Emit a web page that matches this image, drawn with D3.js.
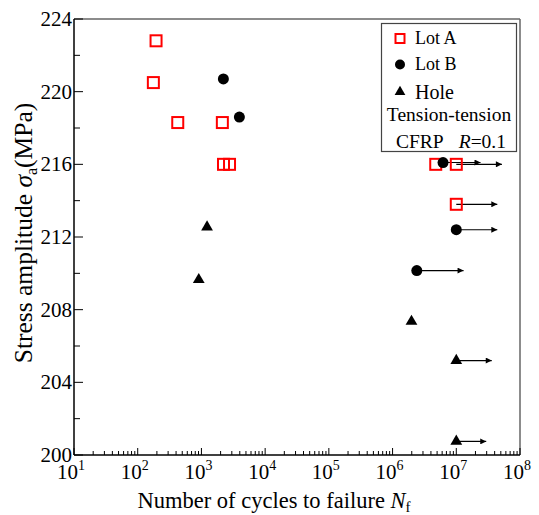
<!DOCTYPE html>
<html>
<head>
<meta charset="utf-8">
<script src="https://cdn.jsdelivr.net/npm/d3@7"></script>
<style>
  body { margin: 0; background: #fff; }
  text { font-family: "Liberation Serif", "Times New Roman", serif; fill: #000; }
</style>
</head>
<body>
<div id="chart"></div>
<script>
(function () {
    'use strict';

    // Lot A (open red squares)
    var lotAN = [194, 176, 425, 2130, 2220, 2760, 4760000, 10000000, 10000000];
    var lotAS = [222.8, 220.5, 218.3, 218.3, 216.0, 216.0, 216.0, 216.0, 213.8];
    // Lot B (filled circles)
    var lotBN = [2210, 3940, 6200000, 10000000, 2400000];
    var lotBS = [220.7, 218.6, 216.1, 212.4, 210.15];
    // Hole (filled triangles)
    var holeN = [1225, 908, 1980000, 10000000, 10000000];
    var holeS = [212.55, 209.65, 207.35, 205.2, 200.75];
    // run-outs (arrows)
    var runFromN = [6200000, 10000000, 10000000, 10000000, 2400000, 10000000, 10000000];
    var runToN = [24000000, 52000000, 44000000, 44000000, 13000000, 36000000, 29500000];
    var runS = [216.1, 216.0, 213.8, 212.4, 210.15, 205.2, 200.75];

    var xDecades = [1, 2, 3, 4, 5, 6, 7, 8];
    var yTicks = [200, 204, 208, 212, 216, 220, 224];
    var yMinor = [202, 206, 210, 214, 218, 222];

    var width = 539, height = 515;
    var left = 74, right = 520, top = 19, bottom = 455;

    var x = d3.scaleLog().domain([10, 1e8]).range([left, right]);
    var y = d3.scaleLinear().domain([200, 224]).range([bottom, top]);

    var svg = d3.select('#chart').append('svg')
        .attr('width', width)
        .attr('height', height);

    var defs = svg.append('defs');
    defs.append('marker')
        .attr('id', 'arrow')
        .attr('viewBox', '0 0 10 10')
        .attr('refX', 10).attr('refY', 5)
        .attr('markerWidth', 9).attr('markerHeight', 6)
        .attr('markerUnits', 'userSpaceOnUse')
        .attr('orient', 'auto')
        .append('path')
        .attr('d', 'M0,0L10,5L0,10Z')
        .attr('fill', '#000');

    // frame
    svg.append('line').attr('x1', left).attr('x2', right).attr('y1', top).attr('y2', top)
        .attr('stroke', '#666').attr('stroke-width', 1.5);
    svg.append('line').attr('x1', right).attr('x2', right).attr('y1', top).attr('y2', bottom)
        .attr('stroke', '#666').attr('stroke-width', 1.5);

    // x ticks (inside)
    var xMinor = [];
    xDecades.forEach(function (e) {
        if (e < 8) {
            for (var k = 2; k <= 9; k++) xMinor.push(k * Math.pow(10, e));
        }
    });
    svg.append('g').selectAll('line').data(xMinor).enter().append('line')
        .attr('x1', function (d) { return x(d); }).attr('x2', function (d) { return x(d); })
        .attr('y1', bottom).attr('y2', bottom - 4)
        .attr('stroke', '#000').attr('stroke-width', 1);
    svg.append('g').selectAll('line').data(xDecades).enter().append('line')
        .attr('x1', function (d) { return x(Math.pow(10, d)); }).attr('x2', function (d) { return x(Math.pow(10, d)); })
        .attr('y1', bottom).attr('y2', bottom - 7)
        .attr('stroke', '#000').attr('stroke-width', 1);

    var xl = svg.append('g').selectAll('text').data(xDecades).enter().append('text')
        .attr('x', function (d) { return x(Math.pow(10, d)) - 3; })
        .attr('y', 479)
        .attr('text-anchor', 'middle')
        .style('font-size', '21px');
    xl.append('tspan').text('10');
    xl.append('tspan').attr('dy', -9).style('font-size', '14px').text(function (d) { return d; });

    // y ticks (inside)
    svg.append('g').selectAll('line').data(yMinor).enter().append('line')
        .attr('x1', left).attr('x2', left + 6)
        .attr('y1', function (d) { return y(d); }).attr('y2', function (d) { return y(d); })
        .attr('stroke', '#000').attr('stroke-width', 1);
    svg.append('g').selectAll('line').data(yTicks).enter().append('line')
        .attr('x1', left).attr('x2', left + 9)
        .attr('y1', function (d) { return y(d); }).attr('y2', function (d) { return y(d); })
        .attr('stroke', '#000').attr('stroke-width', 1);
    svg.append('g').selectAll('text').data(yTicks).enter().append('text')
        .attr('x', left - 2)
        .attr('y', function (d) { return y(d) + 7; })
        .attr('text-anchor', 'end')
        .style('font-size', '21px')
        .text(function (d) { return d; });

    // axis lines
    svg.append('line').attr('x1', left).attr('x2', left).attr('y1', top).attr('y2', bottom)
        .attr('stroke', '#000').attr('stroke-width', 1.5);
    svg.append('line').attr('x1', left).attr('x2', right).attr('y1', bottom).attr('y2', bottom)
        .attr('stroke', '#000').attr('stroke-width', 1.5);

    // axis titles
    var xt = svg.append('text')
        .attr('x', 274).attr('y', 508)
        .attr('text-anchor', 'middle')
        .style('font-size', '22.5px');
    xt.append('tspan').text('Number of cycles to failure ');
    xt.append('tspan').style('font-style', 'italic').text('N');
    xt.append('tspan').attr('dy', 4).style('font-size', '15px').text('f');

    var yt = svg.append('text')
        .attr('transform', 'translate(32,233) rotate(-90)')
        .attr('text-anchor', 'middle')
        .style('font-size', '25.5px');
    yt.append('tspan').text('Stress amplitude ');
    yt.append('tspan').style('font-style', 'italic').text('σ');
    yt.append('tspan').attr('dy', 5).style('font-size', '16px').text('a');
    yt.append('tspan').attr('dy', -5).text('(MPa)');

    // run-out arrows
    svg.append('g').selectAll('line').data(runS).enter().append('line')
        .attr('x1', function (d, i) { return x(runFromN[i]); })
        .attr('x2', function (d, i) { return x(runToN[i]); })
        .attr('y1', function (d) { return y(d); })
        .attr('y2', function (d) { return y(d); })
        .attr('stroke', '#000').attr('stroke-width', 1.2)
        .attr('marker-end', 'url(#arrow)');

    // Lot A squares
    svg.append('g').selectAll('rect').data(lotAS).enter().append('rect')
        .attr('x', function (d, i) { return x(lotAN[i]) - 5.5; })
        .attr('y', function (d) { return y(d) - 5.5; })
        .attr('width', 11).attr('height', 11)
        .attr('fill', 'none').attr('stroke', '#ff0000').attr('stroke-width', 2);

    // Lot B circles
    svg.append('g').selectAll('circle').data(lotBS).enter().append('circle')
        .attr('cx', function (d, i) { return x(lotBN[i]); })
        .attr('cy', function (d) { return y(d); })
        .attr('r', 5.5)
        .attr('fill', '#000');

    // Hole triangles
    var tri = d3.symbol().type(d3.symbolTriangle).size(60);
    svg.append('g').selectAll('path').data(holeS).enter().append('path')
        .attr('d', tri)
        .attr('transform', function (d, i) { return 'translate(' + x(holeN[i]) + ',' + y(d) + ')'; })
        .attr('fill', '#000');

    // legend
    var lg = svg.append('g');
    lg.append('rect')
        .attr('x', 381.5).attr('y', 23.5).attr('width', 135).attr('height', 128)
        .attr('fill', '#fff').attr('stroke', '#444').attr('stroke-width', 1.2);
    lg.append('rect').attr('x', 395.5).attr('y', 34).attr('width', 9).attr('height', 9)
        .attr('fill', 'none').attr('stroke', '#ff0000').attr('stroke-width', 2);
    lg.append('circle').attr('cx', 400).attr('cy', 64.5).attr('r', 5).attr('fill', '#000');
    lg.append('path').attr('d', d3.symbol().type(d3.symbolTriangle).size(50))
        .attr('transform', 'translate(400,92)').attr('fill', '#000');
    var legendLabels = ['Lot A', 'Lot B', 'Hole'];
    var legendY = [44, 70, 99];
    var legendSize = [18, 18, 20];
    lg.selectAll('text.lab').data(legendLabels).enter().append('text')
        .attr('class', 'lab')
        .attr('x', 415).attr('y', function (d, i) { return legendY[i]; })
        .style('font-size', function (d, i) { return legendSize[i] + 'px'; })
        .text(function (d) { return d; });
    lg.append('text').attr('x', 449).attr('y', 121).attr('text-anchor', 'middle')
        .style('font-size', '19.5px').text('Tension-tension');
    var cf = lg.append('text').attr('x', 451).attr('y', 148).attr('text-anchor', 'middle')
        .style('font-size', '19.5px');
    cf.append('tspan').text('CFRP');
    cf.append('tspan').attr('dx', 15).style('font-style', 'italic').text('R');
    cf.append('tspan').text('=0.1');
}());
</script>
</body>
</html>
